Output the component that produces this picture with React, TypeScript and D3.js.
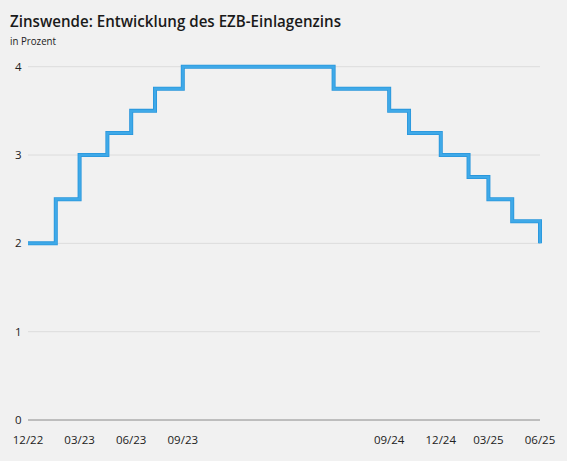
import React from "react";
import * as d3 from "d3";

const changeDates = [
  "2022-12-21", "2023-02-08", "2023-03-22", "2023-05-10", "2023-06-21",
  "2023-08-02", "2023-09-20", "2024-06-12", "2024-09-18", "2024-10-23",
  "2024-12-18", "2025-02-05", "2025-03-12", "2025-04-23", "2025-06-11",
];
const rates = [2.0, 2.5, 3.0, 3.25, 3.5, 3.75, 4.0, 3.75, 3.5, 3.25, 3.0, 2.75, 2.5, 2.25, 2.0];
const xTickDates = ["2022-12-21", "2023-03-22", "2023-06-21", "2023-09-20", "2024-09-18", "2024-12-18", "2025-03-12", "2025-06-11"];
const xTickLabels = ["12/22", "03/23", "06/23", "09/23", "09/24", "12/24", "03/25", "06/25"];
const yTicks = [0, 1, 2, 3, 4];
const title = "Zinswende: Entwicklung des EZB-Einlagenzins";
const subtitle = "in Prozent";

const W = 567, H = 461;
const FONT = "'Open Sans', 'Noto Sans', sans-serif";

export default function App() {
  const parse = d3.utcParse("%Y-%m-%d");
  const dates = changeDates.map((d) => parse(d) as Date);
  const x = d3.scaleUtc().domain([dates[0], dates[dates.length - 1]]).range([28, 540]);
  const y = d3.scaleLinear().domain([0, 4]).range([420, 66.7]);
  const data = dates.map((d, i) => ({ d, v: rates[i] }));
  const stepPts: { d: Date; v: number }[] = [];
  data.forEach((p, i) => {
    if (i > 0) stepPts.push({ d: p.d, v: data[i - 1].v });
    stepPts.push(p);
  });
  const path = d3
    .line<{ d: Date; v: number }>()
    .x((p) => x(p.d))
    .y((p) => y(p.v))(stepPts) as string;

  return (
    <svg
      width={W}
      height={H}
      style={{ position: "fixed", left: 0, top: 0, background: "#f1f1f1" }}
      fontFamily={FONT}
    >
      <rect width={W} height={H} fill="#f1f1f1" />
      <text x={10} y={26.5} fontSize={16.5} fontWeight={600} fill="#1a1a1a" textLength={331} lengthAdjust="spacingAndGlyphs">
        {title}
      </text>
      <text x={10} y={44.5} fontSize={10.5} fill="#222" textLength={46} lengthAdjust="spacingAndGlyphs">
        {subtitle}
      </text>
      {yTicks.map((t) => (
        <g key={t}>
          <line
            x1={28}
            x2={540}
            y1={y(t)}
            y2={y(t)}
            stroke={t === 0 ? "#8a8a8a" : "#dcdcdc"}
            strokeWidth={1}
          />
          <text x={21.5} y={y(t)} dy="0.36em" textAnchor="end" fontSize={11.5} fill="#222">
            {t}
          </text>
        </g>
      ))}
      {xTickDates.map((t, i) => (
        <text
          key={t}
          x={x(parse(t) as Date)}
          y={444}
          textAnchor="middle"
          fontSize={11.5}
          fill="#222"
        >
          {xTickLabels[i]}
        </text>
      ))}
      <path d={path} fill="none" stroke="#2896dc" strokeWidth={4} strokeLinejoin="miter" />
      <path d={path} fill="none" stroke="#3fa9e8" strokeWidth={2.4} strokeLinejoin="miter" />
    </svg>
  );
}
